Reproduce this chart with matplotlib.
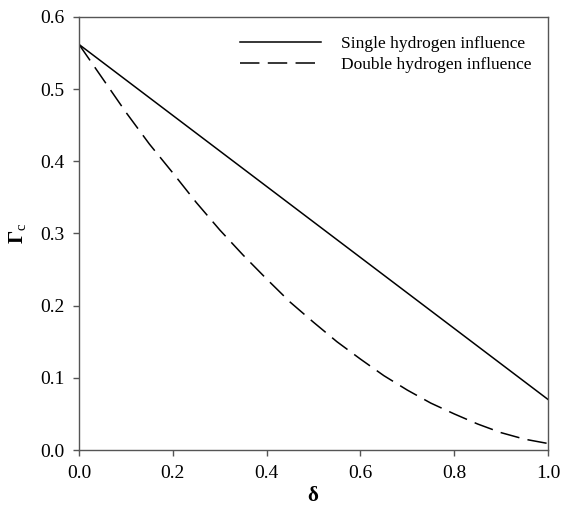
import matplotlib
matplotlib.use("Agg")
import matplotlib.pyplot as plt

# Gamma_c against delta for the two hydrogen cases
delta_single = [0.0, 1.0]
gamma_single = [0.562, 0.070]

delta_double = [0.00, 0.05, 0.10, 0.15, 0.20, 0.25, 0.30, 0.35, 0.40, 0.45, 0.50,
                0.55, 0.60, 0.65, 0.70, 0.75, 0.80, 0.85, 0.90, 0.95, 1.00]
gamma_double = [0.562, 0.515, 0.468, 0.424, 0.384, 0.343, 0.305, 0.270, 0.237, 0.205, 0.177,
                0.150, 0.126, 0.103, 0.083, 0.065, 0.050, 0.036, 0.024, 0.015, 0.009]

x_ticks = [0.0, 0.2, 0.4, 0.6, 0.8, 1.0]
y_ticks = [0.0, 0.1, 0.2, 0.3, 0.4, 0.5, 0.6]

plt.rcParams["font.family"] = ["Liberation Serif", "DejaVu Serif"]
plt.rcParams["mathtext.fontset"] = "custom"
plt.rcParams["mathtext.rm"] = "Liberation Serif"
plt.rcParams["mathtext.bf"] = "Liberation Serif:bold"
plt.rcParams["lines.scale_dashes"] = False

fig = plt.figure(figsize=(5.65, 5.13), dpi=100)
ax = fig.add_axes([0.1398, 0.1228, 0.8302, 0.8441])

ax.plot(delta_single, gamma_single, color="black", lw=1.1,
        label="Single hydrogen influence")
ax.plot(delta_double, gamma_double, color="black", lw=1.1,
        dashes=(14, 6), label="Double hydrogen influence")

ax.set_xlim(0, 1)
ax.set_ylim(0, 0.6)
ax.set_xticks(x_ticks)
ax.set_yticks(y_ticks)
ax.set_xticklabels([f"{v:.1f}" for v in x_ticks])
ax.set_yticklabels([f"{v:.1f}" for v in y_ticks])
ax.tick_params(direction="out", length=4.5, width=1, color="#555555",
               labelsize=14, pad=6)
for s in ax.spines.values():
    s.set_color("#555555")
    s.set_linewidth(1)

ax.set_xlabel(r"$\mathbf{\delta}$", fontsize=15, labelpad=4)
ax.set_ylabel(r"$\mathbf{\Gamma}_\mathrm{c}$", fontsize=15, labelpad=8)

ax.legend(loc="upper left", bbox_to_anchor=(0.343, 0.957), frameon=False,
          fontsize=12.5, handlelength=4.7, handletextpad=1.15, borderpad=0,
          borderaxespad=0, labelspacing=0.3)

fig.savefig("out.png", dpi=100)
